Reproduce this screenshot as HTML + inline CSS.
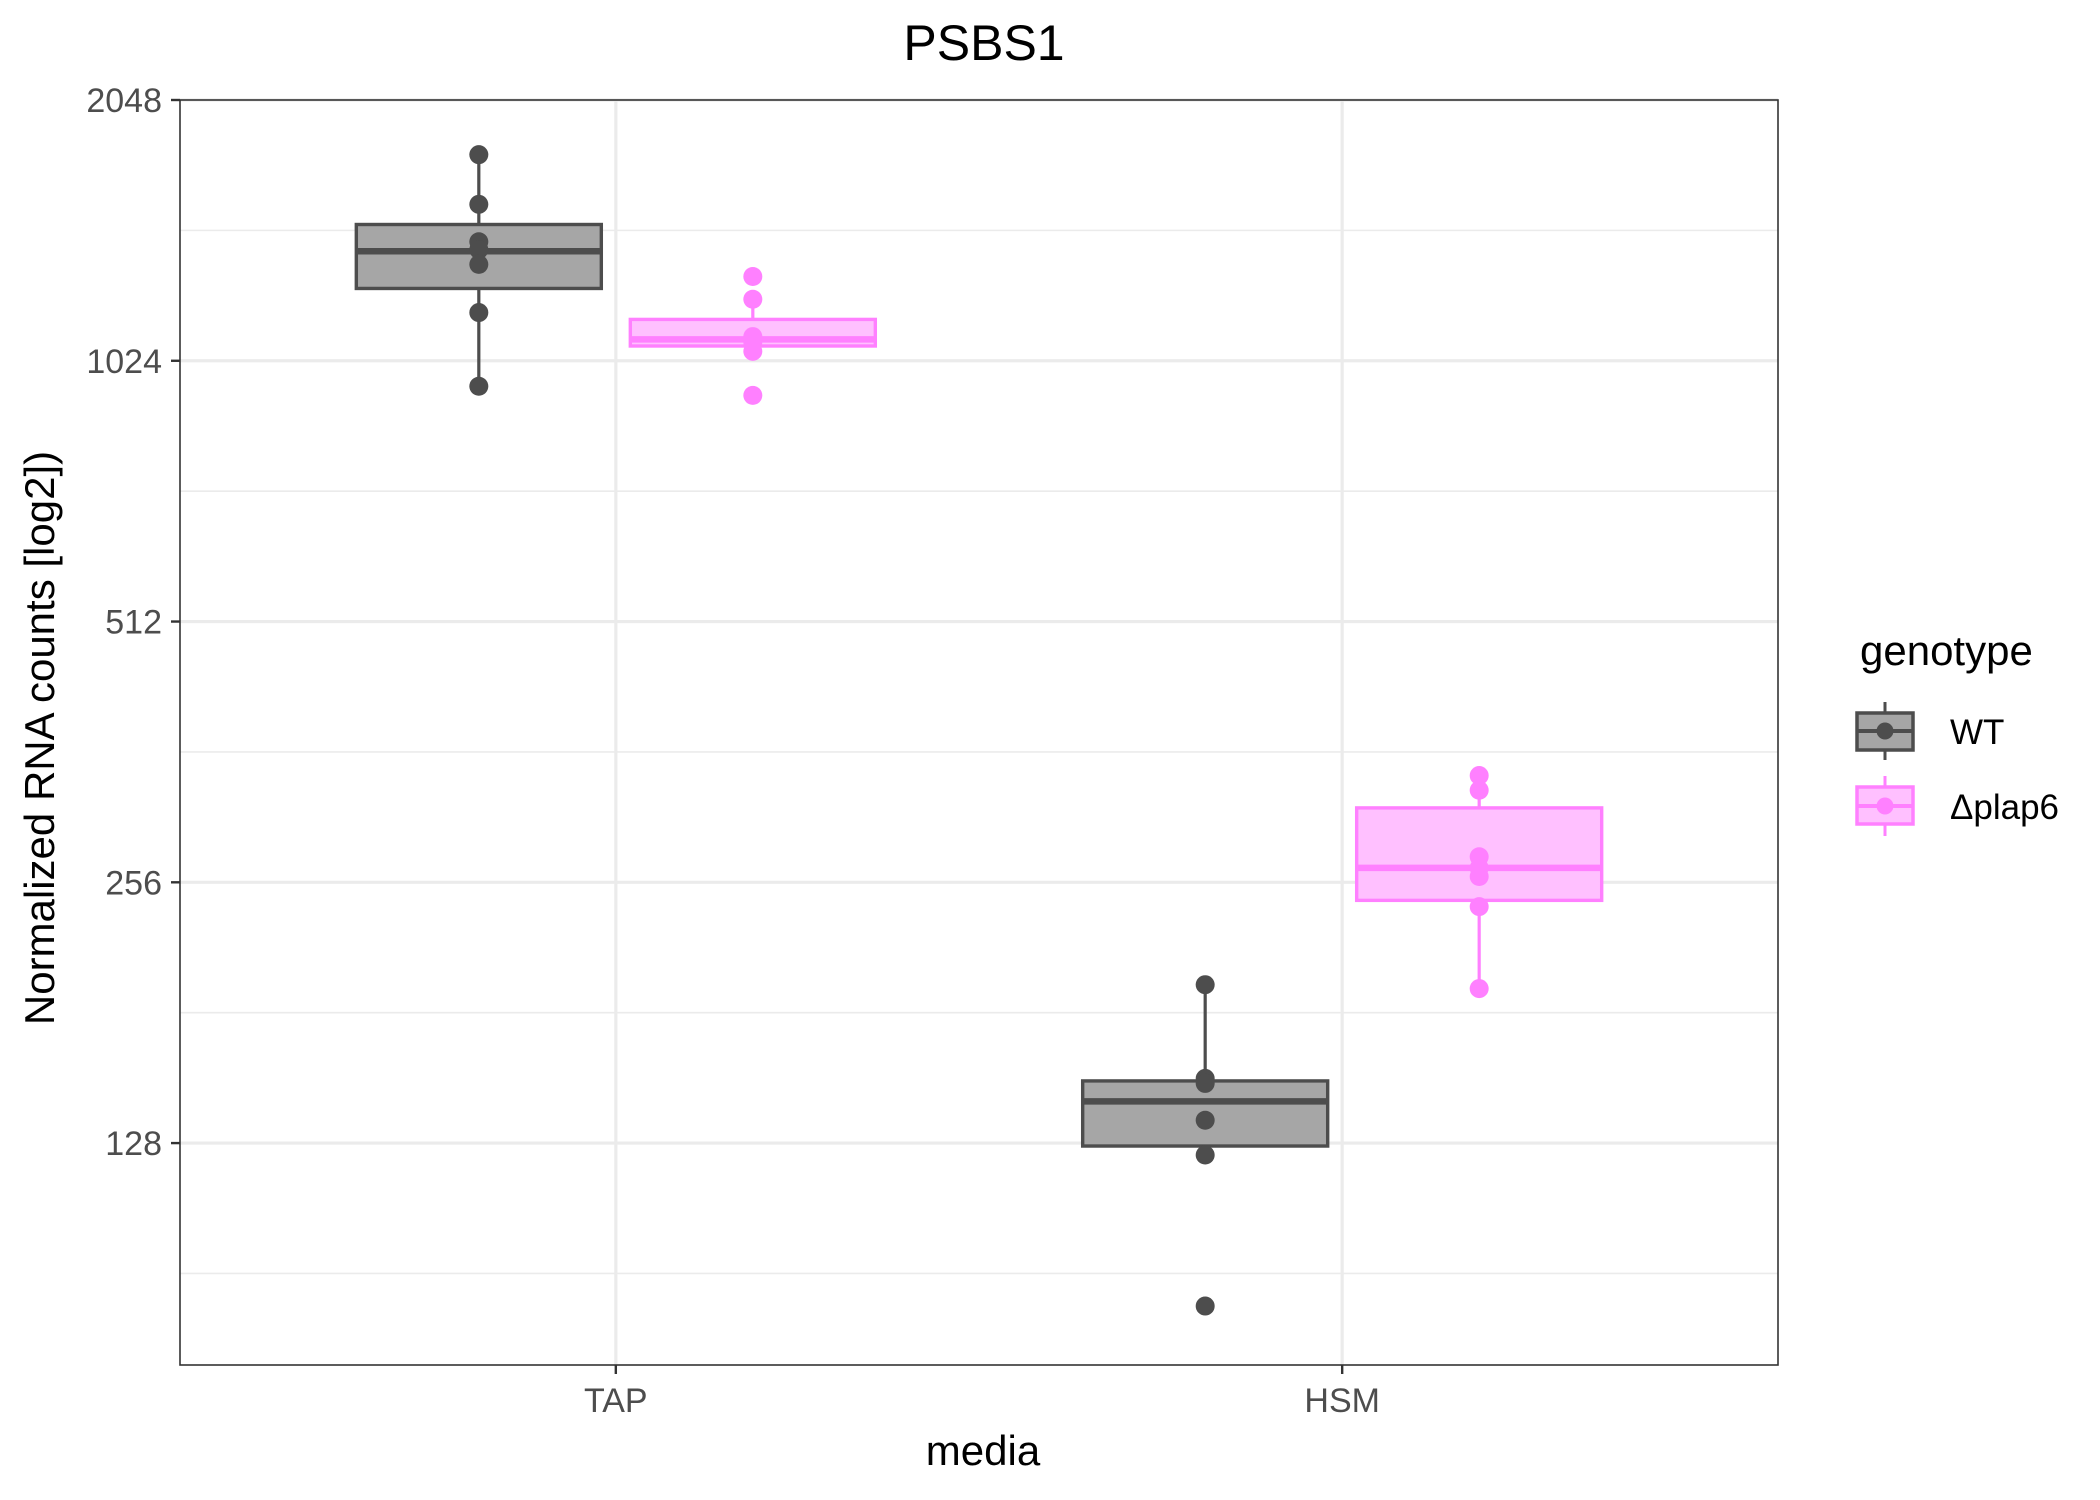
<!DOCTYPE html>
<html><head><meta charset="utf-8"><style>
body{margin:0;background:#fff;}
svg{display:block;font-family:"Liberation Sans",sans-serif;}
</style></head><body>
<svg id="chart" width="2100" height="1500" viewBox="0 0 2100 1500">
<rect x="0" y="0" width="2100" height="1500" fill="#fff"/>
<text x="984" y="60" font-size="50" text-anchor="middle" fill="#000">PSBS1</text>
<g id="grid"></g>
<g id="marks"></g>
<rect x="180" y="100" width="1598" height="1265" fill="none" stroke="#333" stroke-width="1.6"/>
<g id="axes"></g>
<text x="983" y="1465" font-size="42" text-anchor="middle" fill="#000">media</text>
<text transform="translate(54,738) rotate(-90)" font-size="42" text-anchor="middle" fill="#000">Normalized RNA counts [log2])</text>
<g>
<text x="1860" y="665" font-size="42" fill="#000">genotype</text>
<g>
<line x1="1885" y1="702" x2="1885" y2="760" stroke="#4d4d4d" stroke-width="3"/>
<rect x="1857" y="713" width="56" height="37" fill="#a6a6a6" stroke="#4d4d4d" stroke-width="3.5"/>
<line x1="1857" y1="731" x2="1913" y2="731" stroke="#4d4d4d" stroke-width="4"/>
<circle cx="1885" cy="731" r="8.5" fill="#4d4d4d"/>
<text x="1950" y="744" font-size="35" fill="#000">WT</text>
</g>
<g>
<line x1="1885" y1="776" x2="1885" y2="836" stroke="#ff80ff" stroke-width="3"/>
<rect x="1857" y="787" width="56" height="37" fill="#ffc0ff" stroke="#ff80ff" stroke-width="3.5"/>
<line x1="1857" y1="806" x2="1913" y2="806" stroke="#ff80ff" stroke-width="4"/>
<circle cx="1885" cy="806" r="8.5" fill="#ff80ff"/>
<text x="1950" y="819" font-size="35" fill="#000">Δplap6</text>
</g>
</g>
</svg>
<script>
const categories = ["TAP", "HSM"];
const genotypes = ["WT", "Δplap6"];
const yTicks = [128, 256, 512, 1024, 2048];
// box stats: [lowWhisker, q1, median, q3, highWhisker]
const tapWT = [957, 1241, 1370, 1471, 1771];
const tapKO = [1050, 1065, 1084, 1143, 1206];
const hsmWT = [124, 127, 143, 151, 195];
const hsmKO = [193, 244, 266, 312, 340];
const tapWTPoints = [1771, 1552, 1405, 1376, 1323, 1164, 957];
const tapKOPoints = [1281, 1206, 1092, 1076, 1050, 934];
const hsmWTPoints = [195, 152, 150, 136, 124, 83];
const hsmKOPoints = [340, 327, 274, 266, 260, 240, 193];

const NS = "http://www.w3.org/2000/svg";
const plot = {left:180, right:1778, top:100, bottom:1365};
const yMinL = 6.149, yMaxL = 11;
function y(v){ return plot.bottom - (Math.log2(v) - yMinL) / (yMaxL - yMinL) * (plot.bottom - plot.top); }
function catX(ci){ return plot.left + ((ci + 1) - 0.4) / 2.2 * (plot.right - plot.left); }
const dodge = 137, boxW = 245;
const colors = [{line:"#4d4d4d", fill:"#a6a6a6"}, {line:"#ff80ff", fill:"#ffc0ff"}];
function mk(tag, attrs, parent){ const e=document.createElementNS(NS,tag); for(const k in attrs) e.setAttribute(k, attrs[k]); parent.appendChild(e); return e; }

const grid = document.getElementById('grid');
const axes = document.getElementById('axes');
const marks = document.getElementById('marks');
mk('rect',{x:plot.left,y:plot.top,width:plot.right-plot.left,height:plot.bottom-plot.top,fill:'#fff'},grid);
const minors = yTicks.map(t=>t*Math.SQRT2).concat([yTicks[0]/Math.SQRT2]);
minors.forEach(m=>{
  if (y(m) > plot.top && y(m) < plot.bottom) {
    const l=mk('line',{x1:plot.left,x2:plot.right,y1:y(m),y2:y(m),stroke:'#ebebeb','stroke-width':1.6},grid);
    
    
  }
});
yTicks.forEach(t=>{
  const l=mk('line',{x1:plot.left,x2:plot.right,y1:y(t),y2:y(t),stroke:'#ebebeb','stroke-width':3.2},grid);
  
  
  mk('line',{x1:plot.left-9,x2:plot.left,y1:y(t),y2:y(t),stroke:'#333','stroke-width':2.4},axes);
  const tx=mk('text',{x:plot.left-18,y:y(t)+12,'font-size':34,'text-anchor':'end',fill:'#4d4d4d'},axes);
  tx.textContent=t;
  
  
});
categories.forEach((c,ci)=>{
  const cx = catX(ci);
  const l=mk('line',{x1:cx,x2:cx,y1:plot.top,y2:plot.bottom,stroke:'#ebebeb','stroke-width':3.2},grid);
  
  
  mk('line',{x1:cx,x2:cx,y1:plot.bottom,y2:plot.bottom+9,stroke:'#333','stroke-width':2.4},axes);
  const tx=mk('text',{x:cx,y:plot.bottom+47,'font-size':34,'text-anchor':'middle',fill:'#4d4d4d'},axes);
  tx.textContent=c;
  
  
});
const stats = [[tapWT, tapKO],[hsmWT, hsmKO]];
const pts = [[tapWTPoints, tapKOPoints],[hsmWTPoints, hsmKOPoints]];
categories.forEach((c,ci)=>{
  genotypes.forEach((g,gi)=>{
    const s = stats[ci][gi], col = colors[gi];
    const cx = catX(ci) + (gi===0 ? -dodge : dodge);
    const grp = mk('g',{},marks);
    
    
    mk('line',{x1:cx,x2:cx,y1:y(s[0]),y2:y(s[1]),stroke:col.line,'stroke-width':3.2},grp);
    mk('line',{x1:cx,x2:cx,y1:y(s[3]),y2:y(s[4]),stroke:col.line,'stroke-width':3.2},grp);
    mk('rect',{x:cx-boxW/2,y:y(s[3]),width:boxW,height:y(s[1])-y(s[3]),fill:col.fill,stroke:col.line,'stroke-width':3.4},grp);
    mk('line',{x1:cx-boxW/2,x2:cx+boxW/2,y1:y(s[2]),y2:y(s[2]),stroke:col.line,'stroke-width':6.5},grp);
    pts[ci][gi].forEach(v=>{
      const p=mk('circle',{cx:cx,cy:y(v),r:9.5,fill:col.line},marks);
      
      
    });
  });
});
</script>
</body></html>
